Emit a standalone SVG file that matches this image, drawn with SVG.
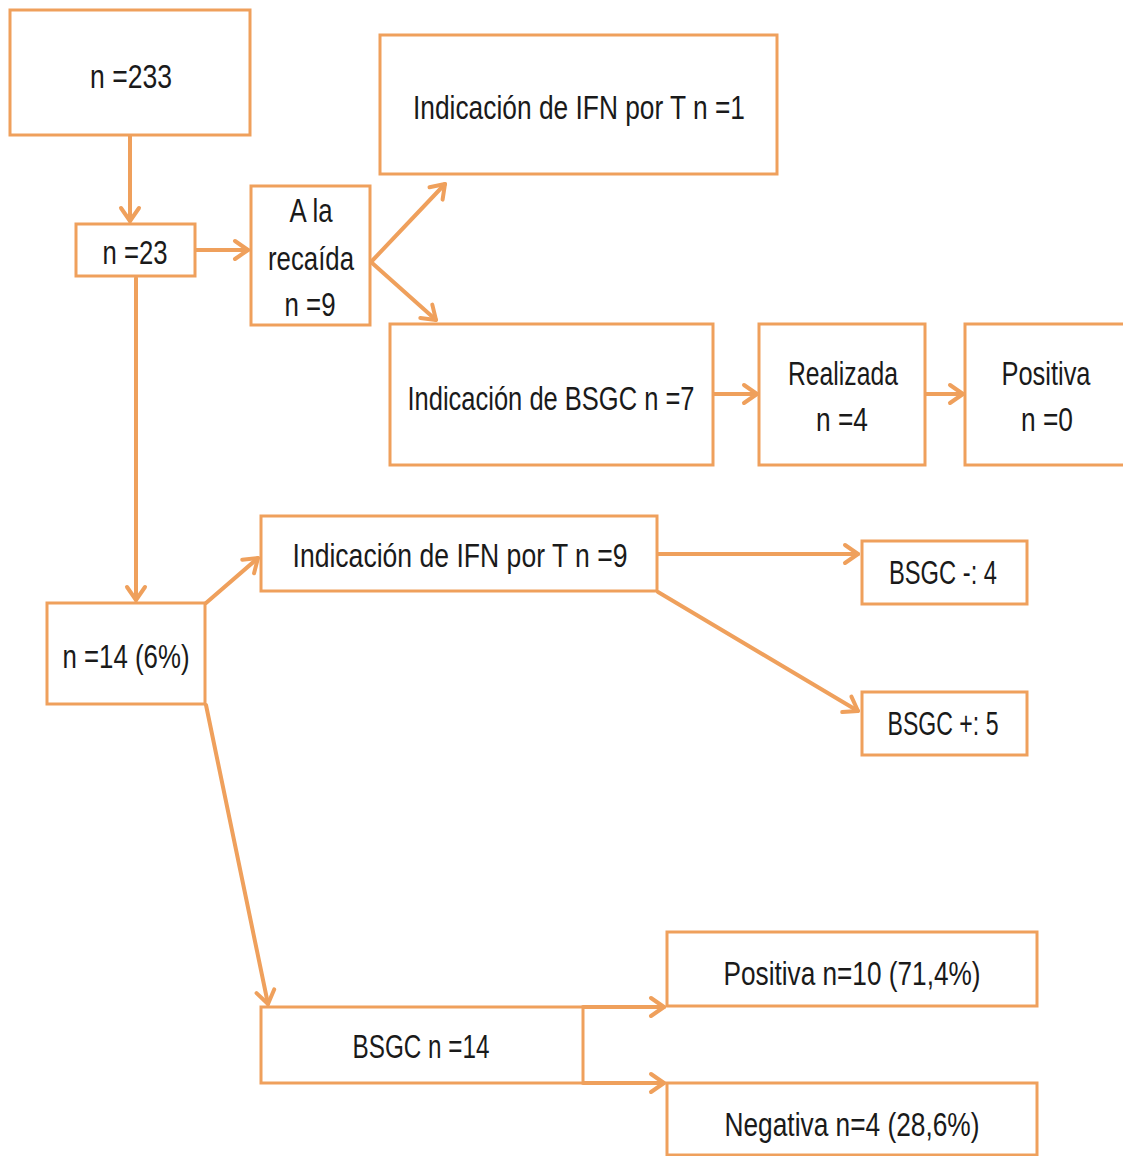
<svg xmlns="http://www.w3.org/2000/svg" width="1123" height="1156" viewBox="0 0 1123 1156">
<style>
.box{fill:#fff;stroke:#EFA05C;stroke-width:3}
.t{font-family:"Liberation Sans",Arial,sans-serif;font-size:33px;fill:#1a1a1a;text-anchor:middle}
.c{fill:none;stroke:#EFA05C;stroke-width:4;stroke-linecap:round}
</style>
<defs>
<marker id="ah" viewBox="0 0 24 24" refX="20" refY="12" markerWidth="24" markerHeight="24" markerUnits="userSpaceOnUse" orient="auto">
<path d="M7,3 L20,12 L7,21" fill="none" stroke="#EFA05C" stroke-width="4" stroke-linecap="round" stroke-linejoin="round"/>
</marker>
</defs>
<rect width="1123" height="1156" fill="#fff"/>
<g id="connectors">
<line class="c" x1="130" y1="136" x2="130" y2="221" marker-end="url(#ah)"/>
<line class="c" x1="196" y1="250" x2="248" y2="250" marker-end="url(#ah)"/>
<line class="c" x1="371" y1="262" x2="445" y2="184" marker-end="url(#ah)"/>
<line class="c" x1="371" y1="262" x2="436" y2="320" marker-end="url(#ah)"/>
<line class="c" x1="714" y1="394" x2="757" y2="394" marker-end="url(#ah)"/>
<line class="c" x1="926" y1="394" x2="963" y2="394" marker-end="url(#ah)"/>
<line class="c" x1="136" y1="278" x2="136" y2="600" marker-end="url(#ah)"/>
<line class="c" x1="206" y1="603" x2="258" y2="558" marker-end="url(#ah)"/>
<line class="c" x1="658" y1="554" x2="858" y2="554" marker-end="url(#ah)"/>
<line class="c" x1="658" y1="592" x2="858" y2="711" marker-end="url(#ah)"/>
<line class="c" x1="206" y1="705" x2="268" y2="1004" stroke-width="3" marker-end="url(#ah)"/>
<line class="c" x1="583" y1="1007" x2="664" y2="1007" marker-end="url(#ah)"/>
<line class="c" x1="583" y1="1083" x2="664" y2="1083" marker-end="url(#ah)"/>
</g>
<g id="n233"><rect class="box" x="10" y="10" width="240" height="125"/><text class="t" x="131" y="88" textLength="82" lengthAdjust="spacingAndGlyphs">n =233</text></g>
<g id="n23"><rect class="box" x="76" y="224" width="119" height="52"/><text class="t" x="135" y="264" textLength="65" lengthAdjust="spacingAndGlyphs">n =23</text></g>
<g id="recaida"><rect class="box" x="251" y="186" width="119" height="139"/>
<text class="t" x="311" y="222" textLength="43" lengthAdjust="spacingAndGlyphs">A la</text>
<text class="t" x="311" y="270" textLength="86" lengthAdjust="spacingAndGlyphs">recaída</text>
<text class="t" x="310" y="316" textLength="51" lengthAdjust="spacingAndGlyphs">n =9</text></g>
<g id="ifn1"><rect class="box" x="380" y="35" width="397" height="139"/><text class="t" x="579" y="119" textLength="332" lengthAdjust="spacingAndGlyphs">Indicación de IFN por T n =1</text></g>
<g id="bsgc7"><rect class="box" x="390" y="324" width="323" height="141"/><text class="t" x="551" y="410" textLength="287" lengthAdjust="spacingAndGlyphs">Indicación de BSGC n =7</text></g>
<g id="realizada"><rect class="box" x="759" y="324" width="166" height="141"/>
<text class="t" x="843" y="385" textLength="110" lengthAdjust="spacingAndGlyphs">Realizada</text>
<text class="t" x="842" y="431" textLength="52" lengthAdjust="spacingAndGlyphs">n =4</text></g>
<g id="positiva0"><rect class="box" x="965" y="324" width="160" height="141"/>
<text class="t" x="1046" y="385" textLength="89" lengthAdjust="spacingAndGlyphs">Positiva</text>
<text class="t" x="1047" y="431" textLength="52" lengthAdjust="spacingAndGlyphs">n =0</text></g>
<g id="ifn9"><rect class="box" x="261" y="516" width="396" height="75"/><text class="t" x="460" y="567" textLength="335" lengthAdjust="spacingAndGlyphs">Indicación de IFN por T n =9</text></g>
<g id="n14"><rect class="box" x="47" y="603" width="158" height="101"/><text class="t" x="126" y="668" textLength="127" lengthAdjust="spacingAndGlyphs">n =14 (6%)</text></g>
<g id="bsgcneg"><rect class="box" x="862" y="541" width="165" height="63"/><text class="t" x="943" y="584" textLength="108" lengthAdjust="spacingAndGlyphs">BSGC -: 4</text></g>
<g id="bsgcpos"><rect class="box" x="862" y="692" width="165" height="63"/><text class="t" x="943" y="735" textLength="111" lengthAdjust="spacingAndGlyphs">BSGC +: 5</text></g>
<g id="bsgc14"><rect class="box" x="261" y="1007" width="322" height="76"/><text class="t" x="421" y="1058" textLength="137" lengthAdjust="spacingAndGlyphs">BSGC n =14</text></g>
<g id="pos10"><rect class="box" x="667" y="932" width="370" height="74"/><text class="t" x="852" y="985" textLength="257" lengthAdjust="spacingAndGlyphs">Positiva n=10 (71,4%)</text></g>
<g id="neg4"><rect class="box" x="667" y="1083" width="370" height="72"/><text class="t" x="852" y="1136" textLength="255" lengthAdjust="spacingAndGlyphs">Negativa n=4 (28,6%)</text></g>
</svg>
